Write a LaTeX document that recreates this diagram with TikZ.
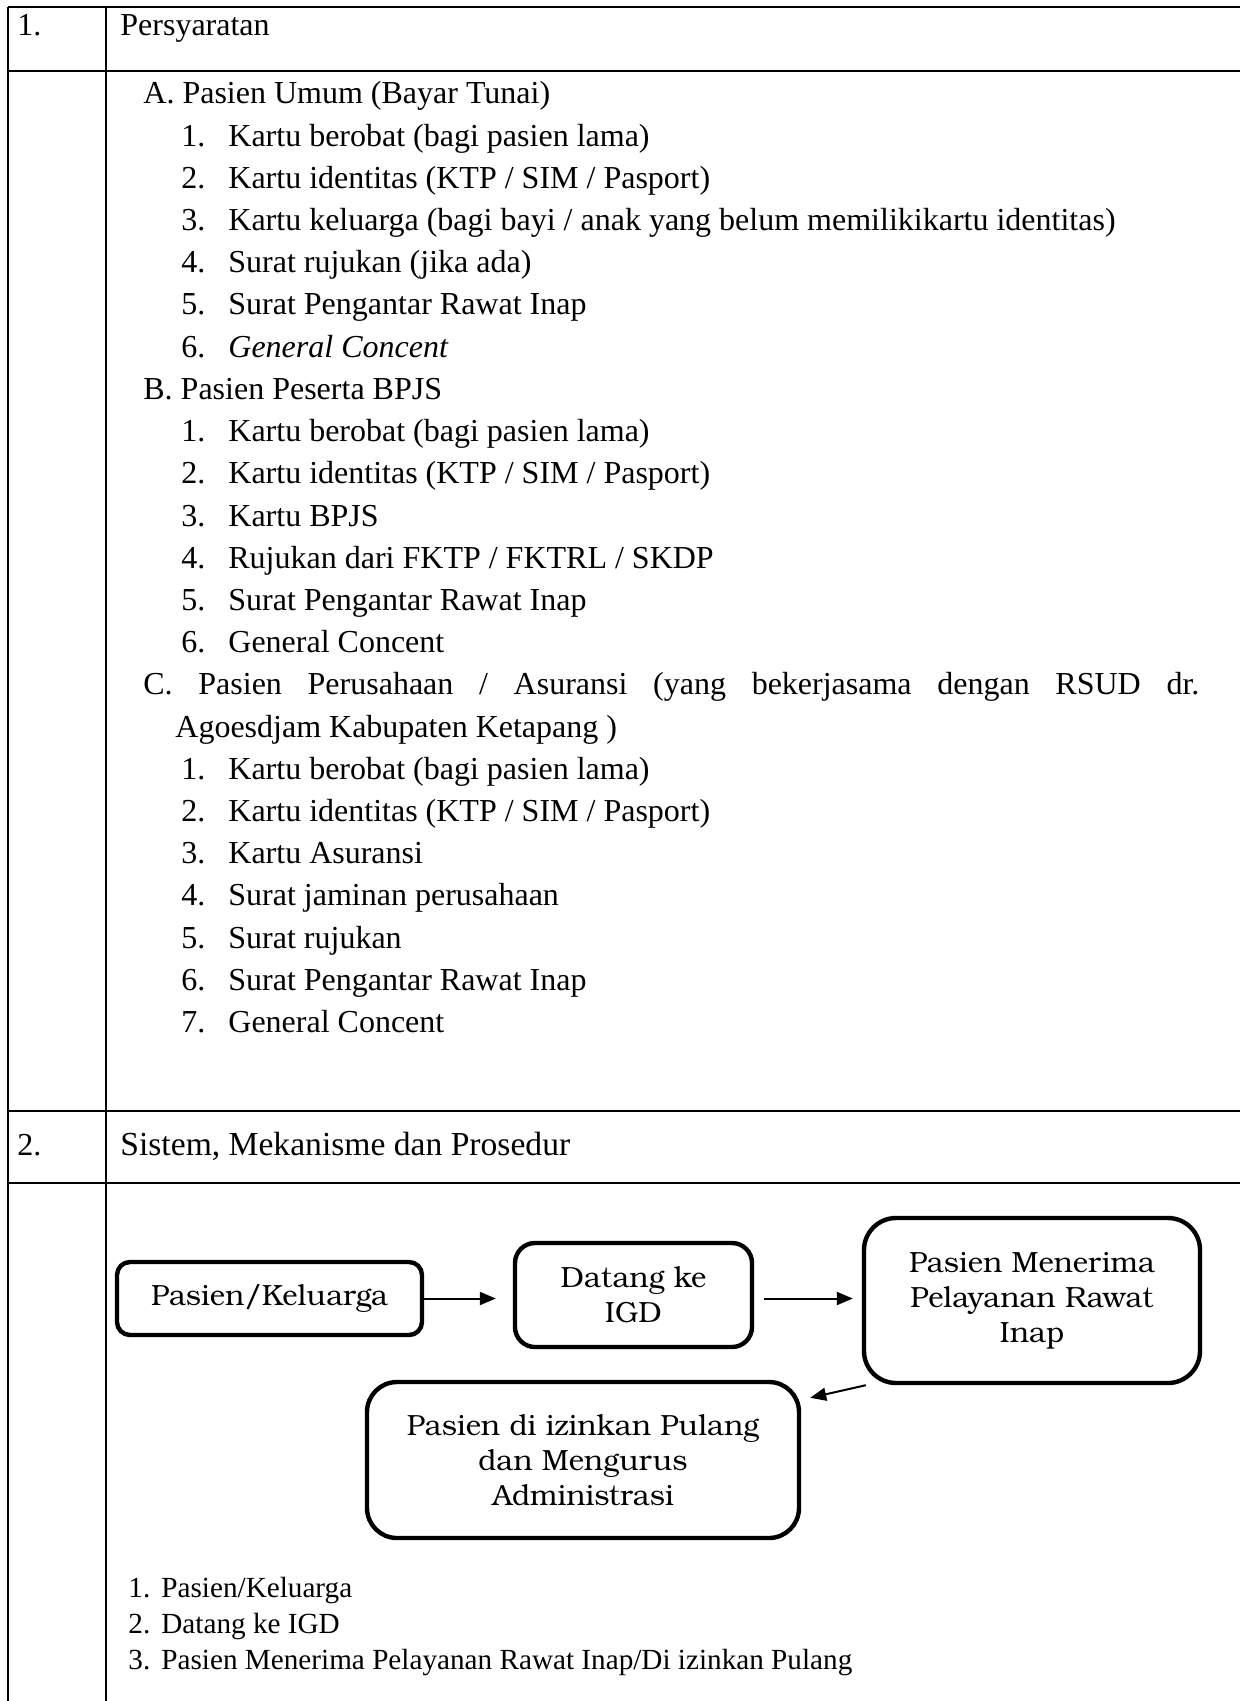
\documentclass[tikz,border=0pt]{standalone}
\usepackage{fontspec}
\setmainfont{Liberation Serif}
\newfontfamily\boxfont{texgyrebonum-regular.otf}
\usetikzlibrary{arrows.meta,calc}
\begin{document}
\begin{tikzpicture}[x=0.5pt,y=-0.5pt,
  tline/.style={line width=0.9pt},
  txt/.style={anchor=base west,inner sep=0pt,font=\fontsize{16}{19}\selectfont},
  ltxt/.style={anchor=base west,inner sep=0pt,font=\fontsize{14.6}{17}\selectfont},
  flow/.style={draw,line width=2.2pt,align=center,inner sep=0pt,font=\boxfont\fontsize{14.6}{17.5}\selectfont},
  arr/.style={line width=1pt,-{Triangle[length=8pt,width=6.5pt]}}]
\useasboundingbox (0,0) rectangle (1240,1701);
% table rules
\draw[tline] (8,7) -- (1240,7);
\draw[tline] (8,71) -- (1240,71);
\draw[tline] (8,1111) -- (1240,1111);
\draw[tline] (8,1183) -- (1240,1183);
\draw[tline] (8,7) -- (8,1701);
\draw[tline] (106,7) -- (106,1701);
% row 1
\node[txt] (n1) at (17,36) {1.};
\node[txt] (h1) at (120,36) {Persyaratan};
\node[txt] (ga) at (143,104) {A. Pasien Umum (Bayar Tunai)};
\foreach \t [count=\i] in {{Kartu berobat (bagi pasien lama)},{Kartu identitas (KTP / SIM / Pasport)},{Kartu keluarga (bagi bayi / anak yang belum memilikikartu identitas)},{Surat rujukan (jika ada)},{Surat Pengantar Rawat Inap},{\textit{General Concent}}}{
  \node[txt] (an\i) at (181,{104+42.2*\i}) {\i.};
  \node[txt] (at\i) at (228,{104+42.2*\i}) {\t};
}
\node[txt] (gb) at (143,{104+42.2*7}) {B. Pasien Peserta BPJS};
\foreach \t [count=\i] in {{Kartu berobat (bagi pasien lama)},{Kartu identitas (KTP / SIM / Pasport)},{Kartu BPJS},{Rujukan dari FKTP / FKTRL / SKDP},{Surat Pengantar Rawat Inap},{General Concent}}{
  \node[txt] (bn\i) at (181,{104+42.2*(7+\i)}) {\i.};
  \node[txt] (bt\i) at (228,{104+42.2*(7+\i)}) {\t};
}
\node[txt] (gc) at (143,{104+42.2*14}) {\makebox[528pt][s]{C. Pasien Perusahaan / Asuransi (yang bekerjasama dengan RSUD dr.}};
\node[txt] (gc2) at (175,{104+42.2*15}) {Agoesdjam Kabupaten Ketapang )};
\foreach \t [count=\i] in {{Kartu berobat (bagi pasien lama)},{Kartu identitas (KTP / SIM / Pasport)},{Kartu Asuransi},{Surat jaminan perusahaan},{Surat rujukan},{Surat Pengantar Rawat Inap},{General Concent}}{
  \node[txt] (cn\i) at (181,{104+42.2*(15+\i)}) {\i.};
  \node[txt] (ct\i) at (228,{104+42.2*(15+\i)}) {\t};
}
% row 2
\node[txt] (n2) at (17,1155) {2.};
\node[txt,font=\fontsize{16.8}{19}\selectfont] (h2) at (120,1155) {Sistem, Mekanisme dan Prosedur};
% flowchart
\node[flow,minimum width=152.5pt,minimum height=36.5pt,rounded corners=6.5pt] (b1) at (269.5,1298.5) {Pasien/Keluarga};
\node[flow,minimum width=118.5pt,minimum height=52pt,rounded corners=10pt] (b2) at (633.5,1295) {Datang ke\\IGD};
\node[flow,minimum width=168pt,minimum height=82.5pt,rounded corners=16pt] (b3) at (1032,1300.5) {Pasien Menerima\\Pelayanan Rawat\\Inap};
\node[flow,minimum width=216pt,minimum height=78pt,rounded corners=15pt] (b4) at (583,1460) {Pasien di izinkan Pulang\\dan Mengurus\\Administrasi};
\draw[arr,shorten >=8.5pt] (b1.east) -- (b1.east -| b2.west);
\draw[arr,shorten <=5pt,shorten >=4.5pt] (b1.east -| b2.east) -- (b1.east -| b3.west);
\draw[arr] ($(b3.south west)+(4,0)$) -- ($(b4.north east)+(9,18)$);
% list below
\node[ltxt] (l1n) at (128,1597) {1.};
\node[ltxt] (l1t) at (161,1597) {Pasien/Keluarga};
\node[ltxt] (l2n) at (128,1633) {2.};
\node[ltxt] (l2t) at (161,1633) {Datang ke IGD};
\node[ltxt] (l3n) at (128,1669) {3.};
\node[ltxt] (l3t) at (161,1669) {Pasien Menerima Pelayanan Rawat Inap/Di izinkan Pulang};
\end{tikzpicture}
\end{document}
